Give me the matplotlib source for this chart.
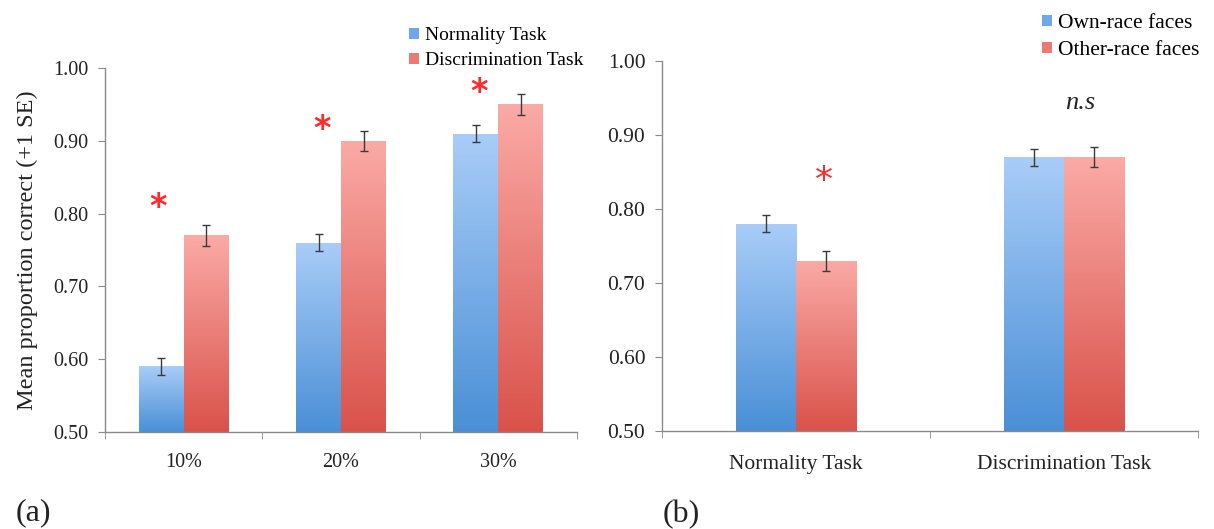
import numpy as np
import matplotlib
matplotlib.use("Agg")
import matplotlib.pyplot as plt
from matplotlib.patches import Patch
from matplotlib.colors import LinearSegmentedColormap

plt.rcParams['font.family'] = ['Liberation Serif', 'DejaVu Serif']

# ---------------- data ----------------
left_categories = ["10%", "20%", "30%"]
left_series = ["Normality Task", "Discrimination Task"]
left_normality = [0.59, 0.76, 0.91]
left_normality_se = [0.012, 0.012, 0.012]
left_discrimination = [0.77, 0.90, 0.95]
left_discrimination_se = [0.014, 0.014, 0.014]
left_star_y = [0.808, 0.915, 0.967]
left_star_dx = [-0.16, -0.12, -0.12]

right_categories = ["Normality Task", "Discrimination Task"]
right_series = ["Own-race faces", "Other-race faces"]
right_own = [0.78, 0.87]
right_own_se = [0.0115, 0.0115]
right_other = [0.73, 0.87]
right_other_se = [0.0135, 0.0135]
right_annot = ["*", "n.s"]
right_annot_x = [0.104, 1.06]
right_annot_y = [0.838, 0.943]

yticks = [0.50, 0.60, 0.70, 0.80, 0.90, 1.00]

blue_cmap = LinearSegmentedColormap.from_list("b", ["#4a8fd6", "#a9cdf8"])
red_cmap = LinearSegmentedColormap.from_list("r", ["#d9524a", "#fbaaa6"])
AXCOL = "#8a8a8a"
TXT = "#222222"


def gradient_bars(ax, bars, cmap, ymin=0.5):
    grad = np.linspace(0, 1, 256).reshape(-1, 1)
    for b in bars:
        x0 = b.get_x()
        w = b.get_width()
        h = b.get_height()
        y0 = b.get_y()
        b.set_facecolor("none")
        b.set_edgecolor("none")
        im = ax.imshow(grad, cmap=cmap, origin="lower", aspect="auto",
                       extent=[x0, x0 + w, ymin, y0 + h], zorder=1)
        im.set_clip_path(b)


def style_axes(ax, ncat, labels, fs, xpad):
    ax.set_ylim(0.5, 1.0)
    ax.set_xlim(-0.5, ncat - 0.5)
    ax.set_yticks(yticks)
    ax.set_yticklabels([f"{v:.2f}" for v in yticks], fontsize=fs, color=TXT)
    ax.set_xticks(range(ncat))
    ax.set_xticklabels(labels, fontsize=fs, color=TXT)
    ax.tick_params(axis="x", which="major", length=0, pad=xpad)
    ax.set_xticks(np.arange(-0.5, ncat, 1.0), minor=True)
    ax.tick_params(axis="x", which="minor", length=5, color=AXCOL, direction="out")
    ax.tick_params(axis="y", length=5, color=AXCOL, direction="out", pad=7)
    for s in ["top", "right"]:
        ax.spines[s].set_visible(False)
    for s in ["left", "bottom"]:
        ax.spines[s].set_color(AXCOL)
        ax.spines[s].set_linewidth(1.0)


fig = plt.figure(figsize=(12.14, 5.29), dpi=100)

# ---------------- panel (a) ----------------
ax1 = fig.add_axes([0.0865, 0.1834, 0.3888, 0.688])
w1 = 0.286
x1 = np.arange(len(left_categories))
b1 = ax1.bar(x1 - w1 / 2, np.array(left_normality) - 0.5, w1, bottom=0.5)
b2 = ax1.bar(x1 + w1 / 2, np.array(left_discrimination) - 0.5, w1, bottom=0.5)
gradient_bars(ax1, b1, blue_cmap)
gradient_bars(ax1, b2, red_cmap)
ax1.errorbar(x1 - w1 / 2, left_normality, yerr=left_normality_se, fmt="none",
             ecolor="#3a3a3a", elinewidth=1, capsize=3, capthick=1, zorder=3)
ax1.errorbar(x1 + w1 / 2, left_discrimination, yerr=left_discrimination_se, fmt="none",
             ecolor="#3a3a3a", elinewidth=1, capsize=3, capthick=1, zorder=3)
for xi, dx, sy in zip(x1, left_star_dx, left_star_y):
    ax1.text(xi + dx, sy, "*", color="#ff2a2a", fontsize=24, ha="center",
             va="center", family="DejaVu Sans", fontweight="bold", zorder=4)
style_axes(ax1, len(left_categories), left_categories, 14.5, 15)
ax1.set_ylabel("Mean proportion correct (+1 SE)", fontsize=17.5, color=TXT)
ax1.yaxis.set_label_coords(-0.143, 0.5)
leg1 = fig.legend([Patch(facecolor="#6fa8e8"), Patch(facecolor="#ec7a72")], left_series,
                  loc="upper left", bbox_to_anchor=(409 / 1214, 1 - 27 / 529),
                  frameon=False, fontsize=14, handlelength=0.5, handleheight=0.5,
                  handletextpad=0.3, labelspacing=0.42, borderaxespad=0, borderpad=0)

# ---------------- panel (b) ----------------
ax2 = fig.add_axes([0.5453, 0.1853, 0.4415, 0.6994])
w2 = 0.224
x2 = np.arange(len(right_categories))
b3 = ax2.bar(x2 - w2 / 2, np.array(right_own) - 0.5, w2, bottom=0.5)
b4 = ax2.bar(x2 + w2 / 2, np.array(right_other) - 0.5, w2, bottom=0.5)
gradient_bars(ax2, b3, blue_cmap)
gradient_bars(ax2, b4, red_cmap)
ax2.errorbar(x2 - w2 / 2, right_own, yerr=right_own_se, fmt="none",
             ecolor="#3a3a3a", elinewidth=1, capsize=3, capthick=1, zorder=3)
ax2.errorbar(x2 + w2 / 2, right_other, yerr=right_other_se, fmt="none",
             ecolor="#3a3a3a", elinewidth=1, capsize=3, capthick=1, zorder=3)
ax2.text(right_annot_x[0], right_annot_y[0], right_annot[0], color="#ff2a2a", fontsize=26,
         ha="center", va="center", family="DejaVu Sans", zorder=4)
ax2.text(right_annot_x[1], right_annot_y[1], right_annot[1], color=TXT, fontsize=19,
         ha="center", va="center", style="italic", zorder=4)
style_axes(ax2, len(right_categories), right_categories, 15.5, 17)
leg2 = fig.legend([Patch(facecolor="#6fa8e8"), Patch(facecolor="#ec7a72")], right_series,
                  loc="upper left", bbox_to_anchor=(1042 / 1214, 1 - 14 / 529),
                  frameon=False, fontsize=15.5, handlelength=0.45, handleheight=0.45,
                  handletextpad=0.3, labelspacing=0.38, borderaxespad=0, borderpad=0)

fig.text(16 / 1214, 1 - 513 / 529, "(a)", fontsize=23, color=TXT, va="center")
fig.text(663 / 1214, 1 - 515 / 529, "(b)", fontsize=23, color=TXT, va="center")

fig.savefig("out.png", dpi=100)
